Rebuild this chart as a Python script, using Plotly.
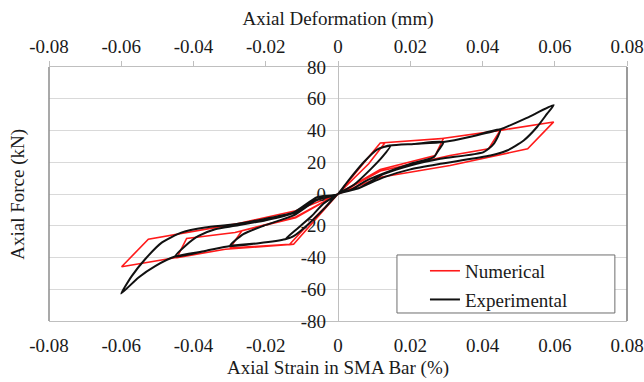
import plotly.graph_objects as go

# Axis ticks (both horizontal axes share the same tick values/labels)
strain_ticks = [-0.08, -0.06, -0.04, -0.02, 0, 0.02, 0.04, 0.06, 0.08]
strain_text = ["-0.08", "-0.06", "-0.04", "-0.02", "0", "0.02", "0.04", "0.06", "0.08"]
force_ticks = [-80, -60, -40, -20, 0, 20, 40, 60, 80]
force_text = ["-80", "-60", "-40", "-20", "0", "20", "40", "60", "80"]

# Numerical model: flag-shaped cycles of increasing amplitude
num_strain = [
    0, 0.0117, 0.0130, 0.0085, 0, -0.0123, -0.0135, -0.0082, 0,
    0.0117, 0.0292, 0.0269, 0.0117, 0, -0.0123, -0.0299, -0.0266, -0.0117, 0,
    0.0117, 0.0283, 0.0449, 0.0417, 0.0310, 0.0117, 0,
    -0.0123, -0.0312, -0.0446, -0.0419, -0.0285, -0.0117, 0,
    0.0117, 0.0283, 0.0449, 0.0597, 0.0525, 0.0310, 0.0117, 0,
    -0.0123, -0.0312, -0.0446, -0.0599, -0.0525, -0.0285, -0.0117, 0,
]
num_force = [
    0, 32.1, 32.3, 19.0, 0, -31.6, -32.0, -19.0, 0,
    32.1, 35.1, 24.2, 15.5, 0, -31.6, -34.0, -23.2, -15.0, 0,
    32.1, 34.8, 40.1, 28.5, 24.2, 14.5, 0,
    -31.6, -34.8, -40.1, -28.0, -24.2, -14.5, 0,
    32.1, 34.8, 40.1, 45.4, 28.5, 17.9, 10.5, 0,
    -31.6, -34.8, -40.1, -45.8, -28.5, -19.0, -10.5, 0,
]

# Experimental loops
exp_strain = [
    # cycle 1
    0, 0.0025, 0.0071, 0.0108, 0.0145, 0.0125, 0.0090, 0.0045, 0,
    -0.0035, -0.0082, -0.0123, -0.0146, -0.0109, -0.0072, -0.0040, 0,
    # cycle 2
    0.0025, 0.0071, 0.0108, 0.0145, 0.0210, 0.0292, 0.0278, 0.0265, 0.0200, 0.0126, 0.0075, 0.0035, 0,
    -0.0035, -0.0082, -0.0123, -0.0146, -0.0220, -0.0299, -0.0262, -0.0206, -0.0123, -0.0060, 0,
    # cycle 3
    0.0025, 0.0071, 0.0108, 0.0145, 0.0210, 0.0292, 0.0370, 0.0449, 0.0431, 0.0403, 0.0283, 0.0200, 0.0126, 0.0060, 0,
    -0.0035, -0.0082, -0.0123, -0.0146, -0.0220, -0.0299, -0.0368, -0.0451, -0.0423, -0.0386, -0.0340, -0.0285, -0.0200, -0.0123, -0.0060, 0,
    # cycle 4
    0.0025, 0.0071, 0.0108, 0.0145, 0.0210, 0.0292, 0.0370, 0.0449, 0.0523, 0.0597,
    0.0579, 0.0551, 0.0514, 0.0468, 0.0422, 0.0283, 0.0200, 0.0126, 0.0052, 0,
    -0.0035, -0.0082, -0.0123, -0.0146, -0.0220, -0.0299, -0.0368, -0.0451, -0.0506, -0.0553, -0.0600,
    -0.0571, -0.0534, -0.0488, -0.0432, -0.0368, -0.0285, -0.0200, -0.0123, -0.0058, 0,
]
exp_force = [
    0, 7.4, 20.0, 28.0, 30.5, 24.0, 15.5, 6.0, 0,
    -8.4, -19.0, -26.5, -28.5, -21.1, -13.7, -6.0, 0,
    7.4, 20.0, 28.0, 30.5, 31.5, 32.7, 27.5, 23.2, 19.0, 13.0, 8.0, 2.5, 0,
    -8.4, -19.0, -26.5, -28.5, -31.0, -32.7, -25.3, -20.0, -13.5, -4.0, 0,
    7.4, 20.0, 28.0, 30.5, 31.5, 32.7, 36.2, 40.7, 31.6, 26.4, 22.2, 18.0, 12.5, 4.0, 0,
    -8.4, -19.0, -26.5, -28.5, -31.0, -32.7, -35.9, -39.4, -32.7, -26.4, -22.2, -20.0, -16.5, -12.0, -3.5, 0,
    7.4, 20.0, 28.0, 30.5, 31.5, 32.7, 36.2, 40.7, 48.0, 56.0,
    50.6, 42.2, 33.7, 27.4, 24.2, 19.0, 15.5, 10.5, 3.2, 0,
    -8.4, -19.0, -26.5, -28.5, -31.0, -32.7, -35.9, -39.4, -45.4, -52.7, -62.7,
    -51.7, -41.1, -30.6, -24.2, -21.1, -19.0, -15.5, -11.6, -2.0, 0,
]

FONT = "Liberation Serif"
GRID = "#d9d9d9"
AXIS = "#bfbfbf"

fig = go.Figure()
fig.add_trace(go.Scatter(
    x=num_strain, y=num_force, mode="lines", name="Numerical",
    line=dict(color="#ff1a1a", width=1.6), legendgroup="num",
))
fig.add_trace(go.Scatter(
    x=exp_strain, y=exp_force, mode="lines", name="Experimental",
    line=dict(color="#111111", width=2, shape="spline", smoothing=0.6),
    legendgroup="exp",
))
# empty trace so the top (deformation) axis is created
fig.add_trace(go.Scatter(x=[], y=[], xaxis="x2", showlegend=False, hoverinfo="skip"))

tick_font = dict(family=FONT, size=19, color="#1a1a1a")

fig.update_layout(
    width=644, height=382,
    margin=dict(l=49, r=17, t=67, b=61),
    paper_bgcolor="white", plot_bgcolor="white",
    font=dict(family=FONT, size=19, color="#1a1a1a"),
    legend=dict(
        x=0.602, y=0.272, xanchor="left", yanchor="top",
        bgcolor="rgba(0,0,0,0)", borderwidth=0,
        traceorder="grouped", tracegroupgap=1,
        font=tick_font, indentation=28,
    ),
    xaxis=dict(
        range=[-0.08, 0.08], tickvals=strain_ticks, ticktext=strain_text,
        tickfont=tick_font, automargin=False,
        showgrid=False, zeroline=True, zerolinecolor=AXIS, zerolinewidth=1,
        showline=True, linecolor=AXIS, linewidth=1, ticks="", ticklabelstandoff=7,
        title=dict(text="Axial Strain in SMA Bar (%)", standoff=5, font=tick_font),
    ),
    xaxis2=dict(
        overlaying="x", side="top", anchor="y", automargin=False,
        range=[-0.08, 0.08], tickvals=strain_ticks, ticktext=strain_text,
        tickfont=tick_font,
        showgrid=False, zeroline=False, showline=True, linecolor=AXIS,
        ticks="outside", ticklen=5, tickcolor=AXIS, ticklabelstandoff=0,
        title=dict(text="Axial Deformation (mm)", standoff=5, font=tick_font),
    ),
    yaxis=dict(
        range=[-80, 80], tickvals=force_ticks, ticktext=force_text,
        tickfont=tick_font, automargin=False,
        anchor="free", position=0.5,
        showgrid=True, gridcolor=GRID, gridwidth=1,
        zeroline=False, showline=False, ticks="", ticklabelstandoff=12,
    ),
    shapes=[
        dict(type="line", xref="paper", yref="paper", x0=0, x1=0, y0=0, y1=1,
             line=dict(color="#8c8c8c", width=1.5)),
        dict(type="line", xref="paper", yref="paper", x0=1, x1=1, y0=0, y1=1,
             line=dict(color="#7a7a7a", width=1.5)),
        # legend frame
        dict(type="rect", xref="paper", yref="paper", layer="above",
             x0=0.602, x1=0.979, y0=0.0315, y1=0.260,
             fillcolor="white", line=dict(color="#6e6e6e", width=1)),
    ],
    annotations=[
        dict(text="Axial Force (kN)", xref="paper", yref="paper",
             x=-0.054, y=0.5, xanchor="center", yanchor="middle",
             textangle=-90, showarrow=False, font=tick_font),
    ],
)

fig.write_html("out.html")
